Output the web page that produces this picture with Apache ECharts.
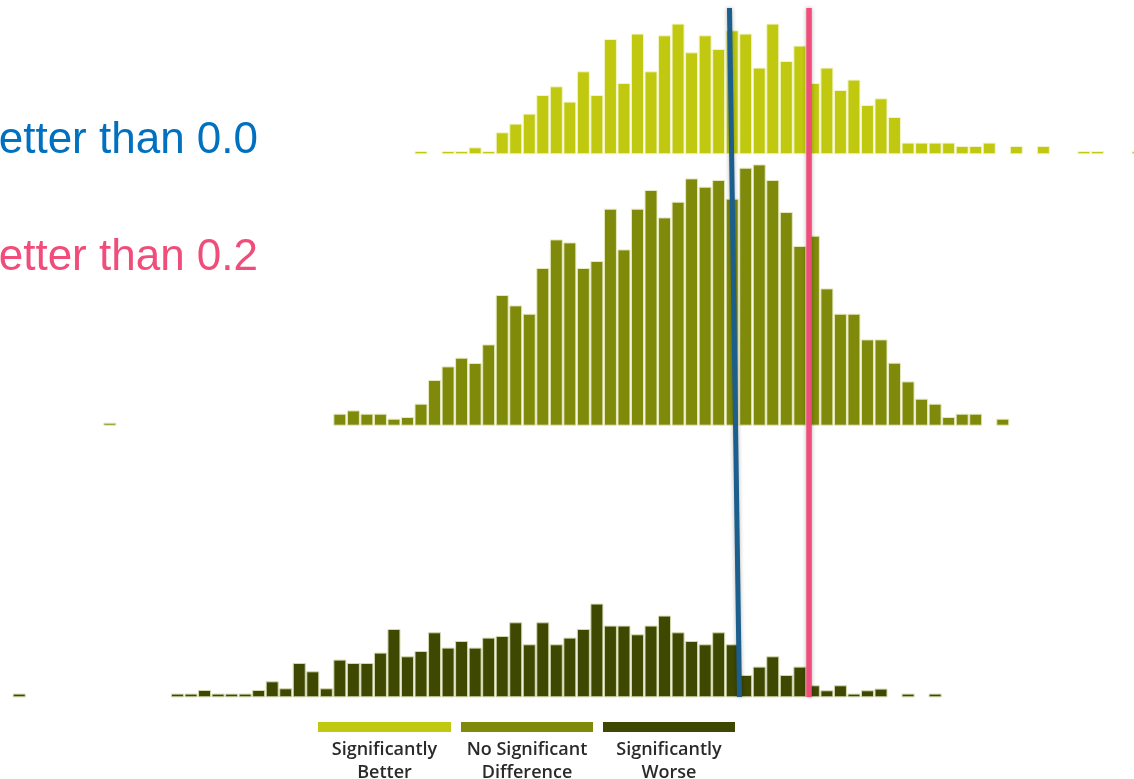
<!DOCTYPE html>
<html>
<head>
<meta charset="utf-8">
<style>
  html, body { margin: 0; padding: 0; background: #ffffff; }
  #chart { width: 1134px; height: 779px; }
</style>
<script src="https://cdn.jsdelivr.net/npm/echarts@6/dist/echarts.min.js"></script>
</head>
<body>
<div id="chart"></div>
<script>
// ---- Data (bar heights, one entry per bin) ----
// Bin index of the first value in each row; null = empty bin
const betterStart = 0;
const betterValues = [3.3, null, 3.3, 3.3, 7, 3.3, 22, 30.7, 40.7, 59.3,
  68, 52.7, 83, 59.3, 115.3, 71.3, 120.7, 83, 119, 130.7,
  102, 119, 105.3, 124, 120.7, 86.7, 130.7, 93.3, 108.7, 71.3,
  86.7, 64.3, 74.7, 49.3, 56, 37.3, 11.7, 11.7, 11.7, 11.7,
  8.3, 8.3, 11.7, null, 8.3, null, 8.3, null, null, 3.3,
  3.3, null, null, 3.3];

const noDiffStart = -6;
const noDiffValues = [12, 15.3, 12, 12, 7, 8.7, 22, 45.7, 59.3, 68,
  62.7, 81.3, 130.7, 120.3, 112, 157.7, 186.3, 183.3, 157.7, 164.7,
  217, 176.3, 217, 235.7, 208.3, 224, 247.3, 239, 245.7, 227,
  258, 261.3, 245.7, 213.7, 179.7, 190, 137.3, 112, 112, 86.3,
  86.3, 63, 44.3, 27, 22, 8.7, 12, 12, null, 7];
const noDiffOutliers = [[-23, 3]];

const worseStart = -18;
const worseValues = [3.7, 3.7, 7.3, 3.7, 3.7, 3.7, 7.3, 16, 9, 34.3,
  26, 9, 37.7, 34.3, 34.3, 44.7, 68.3, 41, 46.3, 65,
  49.7, 56.3, 49.7, 59.7, 61.3, 75, 53, 75, 53, 59.7,
  68.3, 93.7, 71.7, 71.7, 63, 71.7, 81.7, 65, 56.3, 53,
  65, 53, 22.3, 30.7, 41, 22.3, 30.7, 12, 7, 12,
  3.7, 7, 8.7, null, 3.7, null, 3.7];
const worseOutliers = [[-29.7, 3.7]];

// Threshold lines, in bin units: [at top, at bottom]
const thresholdLabels = ['Better than 0.0', 'Better than 0.2'];
const blueLineBins = [22.80, 23.54];
const pinkLineBins = [28.68, 28.68];

const legendLabels = ['Significantly\nBetter', 'No Significant\nDifference', 'Significantly\nWorse'];
const colors = ['#c0c90f', '#7f8a0b', '#3f4800'];

// ---- Build ----
function toPairs(start, values, extra) {
  const out = [];
  values.forEach((v, i) => { if (v !== null) out.push([start + i, v]); });
  (extra || []).forEach(p => out.push(p));
  return out;
}

const X_MIN = -31.12, X_MAX = 52.7;
const grids = [
  { left: 0, right: 0, bottom: 624.7, height: 150 },
  { left: 0, right: 0, bottom: 353.3, height: 270 },
  { left: 0, right: 0, bottom: 81.7, height: 150 },
  { left: 0, right: 0, top: 8, bottom: 82 }
];
const yMax = [150, 270, 150, 1];

const xAxes = grids.map((g, i) => ({ gridIndex: i, type: 'value', min: X_MIN, max: X_MAX, show: false }));
const yAxes = grids.map((g, i) => ({ gridIndex: i, type: 'value', min: 0, max: yMax[i], show: false }));

function barSeries(idx, data, color, border) {
  return {
    type: 'bar', xAxisIndex: idx, yAxisIndex: idx, data: data,
    barWidth: 13,
    itemStyle: { color: color, borderColor: border, borderWidth: 1 },
    silent: true
  };
}

const series = [
  barSeries(0, toPairs(betterStart, betterValues), colors[0], '#f3f5c8'),
  barSeries(1, toPairs(noDiffStart, noDiffValues, noDiffOutliers), colors[1], '#e6e9bf'),
  barSeries(2, toPairs(worseStart, worseValues, worseOutliers), colors[2], '#d3d8b0'),
  {
    type: 'line', xAxisIndex: 3, yAxisIndex: 3,
    data: [[blueLineBins[0], 1], [blueLineBins[1], 0]],
    symbol: 'none', silent: true, z: 10,
    lineStyle: { color: '#1c5e8c', width: 5, shadowBlur: 4, shadowColor: 'rgba(0,0,0,0.3)' }
  },
  {
    type: 'line', xAxisIndex: 3, yAxisIndex: 3,
    data: [[pinkLineBins[0], 1], [pinkLineBins[1], 0]],
    symbol: 'none', silent: true, z: 10,
    lineStyle: { color: '#f04d7a', width: 5.5, shadowBlur: 4, shadowColor: 'rgba(0,0,0,0.3)' }
  }
];

const legendBoxes = [[318, 133], [461, 132], [603, 132]];
const graphic = [
  { type: 'text', x: 258, y: 141, style: { text: thresholdLabels[0], align: 'right', verticalAlign: 'middle', font: '44px "Liberation Sans", Arial, sans-serif', fill: '#0070c0' } },
  { type: 'text', x: 258, y: 257.5, style: { text: thresholdLabels[1], align: 'right', verticalAlign: 'middle', font: '44px "Liberation Sans", Arial, sans-serif', fill: '#f04d7a' } }
];
legendLabels.forEach((lab, i) => {
  const [bx, bw] = legendBoxes[i];
  graphic.push({ type: 'rect', shape: { x: bx, y: 722, width: bw, height: 10 }, style: { fill: colors[i] } });
  graphic.push({ type: 'text', x: bx + bw / 2, y: 738, style: { text: lab, align: 'center', verticalAlign: 'top', font: '600 18px "Open Sans", sans-serif', lineHeight: 23, fill: '#2a2a2a' } });
});

const chart = echarts.init(document.getElementById('chart'), null, { renderer: 'canvas' });
chart.setOption({
  animation: false,
  backgroundColor: '#ffffff',
  grid: grids,
  xAxis: xAxes,
  yAxis: yAxes,
  series: series,
  graphic: graphic
});
</script>
</body>
</html>
